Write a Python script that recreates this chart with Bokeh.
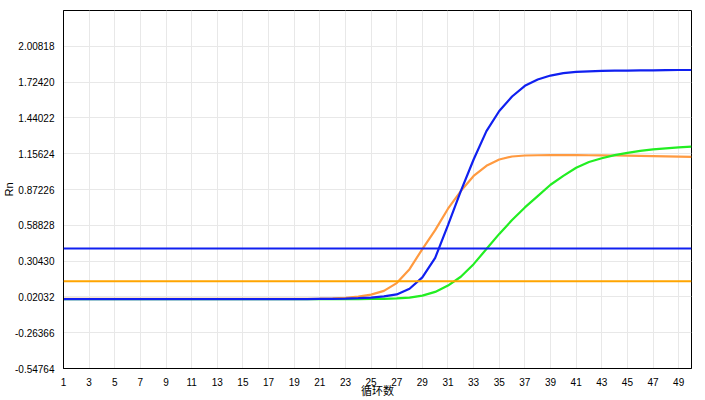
from bokeh.plotting import figure
from bokeh.models import FixedTicker, Range1d, Span
from bokeh.embed import file_html
from bokeh.resources import INLINE

cycles = list(range(1, 51))

blue = [0.002, 0.002, 0.002, 0.002, 0.002, 0.002, 0.002, 0.002, 0.002, 0.002,
        0.002, 0.002, 0.002, 0.002, 0.002, 0.002, 0.002, 0.002, 0.002, 0.003,
        0.004, 0.005, 0.007, 0.010, 0.015, 0.024, 0.040, 0.085, 0.175, 0.33,
        0.59, 0.86, 1.11, 1.335, 1.495, 1.61, 1.695, 1.745, 1.776, 1.795,
        1.805, 1.810, 1.813, 1.815, 1.816, 1.817, 1.818, 1.819, 1.82, 1.82]

orange = [0.004, 0.004, 0.004, 0.004, 0.004, 0.004, 0.004, 0.004, 0.004, 0.004,
          0.004, 0.004, 0.004, 0.004, 0.004, 0.004, 0.004, 0.004, 0.004, 0.005,
          0.006, 0.008, 0.013, 0.022, 0.038, 0.068, 0.13, 0.24, 0.40, 0.55,
          0.72, 0.86, 0.98, 1.06, 1.11, 1.134, 1.142, 1.144, 1.145, 1.145,
          1.145, 1.144, 1.143, 1.142, 1.141, 1.139, 1.137, 1.135, 1.133, 1.131]

green = [0.003, 0.003, 0.003, 0.003, 0.003, 0.003, 0.003, 0.003, 0.003, 0.003,
         0.003, 0.003, 0.003, 0.003, 0.003, 0.003, 0.003, 0.003, 0.003, 0.003,
         0.003, 0.003, 0.003, 0.003, 0.004, 0.005, 0.008, 0.015, 0.03, 0.06,
         0.11, 0.18, 0.28, 0.40, 0.52, 0.63, 0.73, 0.82, 0.91, 0.98,
         1.045, 1.09, 1.12, 1.145, 1.163, 1.178, 1.19, 1.199, 1.206, 1.212]

threshold_blue = 0.404
threshold_orange = 0.145

y_ticks = [-0.54764, -0.26366, 0.02032, 0.30430, 0.58828, 0.87226,
           1.15624, 1.44022, 1.72420, 2.00818]
y_labels = ["-0.54764", "-0.26366", "0.02032", "0.30430", "0.58828", "0.87226",
            "1.15624", "1.44022", "1.72420", "2.00818"]
y_top = 2.29216
x_ticks = list(range(1, 50, 2))

FONT = "Liberation Sans"

p = figure(width=705, height=400, output_backend="svg", toolbar_location=None,
           x_range=Range1d(1, 50), y_range=Range1d(y_ticks[0], y_top),
           min_border_left=63, min_border_right=14, min_border_top=10,
           min_border_bottom=29)
p.background_fill_color = "white"
p.border_fill_color = "white"
p.outline_line_color = "black"
p.outline_line_width = 1

p.xaxis.ticker = FixedTicker(ticks=x_ticks)
p.yaxis.ticker = FixedTicker(ticks=y_ticks + [y_top])
p.yaxis.major_label_overrides = {v: s for v, s in zip(y_ticks, y_labels)}
p.yaxis.major_label_overrides[y_top] = ""
for ax in (p.xaxis[0], p.yaxis[0]):
    ax.axis_line_color = "black"
    ax.axis_line_width = 1
    ax.major_tick_line_color = None
    ax.minor_tick_line_color = None
    ax.major_label_text_font = FONT
    ax.major_label_text_font_size = "10px"
    ax.major_label_text_color = "black"
    ax.axis_label_text_font_style = "normal"
    ax.axis_label_text_color = "black"
p.yaxis.major_label_standoff = 3
p.xaxis.major_label_standoff = 3

p.yaxis.axis_label = "Rn"
p.yaxis.axis_label_text_font = FONT
p.yaxis.axis_label_text_font_size = "11px"
p.yaxis.axis_label_standoff = -3

p.xaxis.axis_label = "循环数"
p.xaxis.axis_label_text_font = "Noto Sans CJK SC"
p.xaxis.axis_label_text_font_size = "11px"
p.xaxis.axis_label_standoff = -7

p.grid.grid_line_color = "#e8e8e8"
p.grid.grid_line_width = 1

p.line(cycles, orange, line_color="#ff9a40", line_width=2.2)
p.line(cycles, green, line_color="#22ee22", line_width=2.2)
p.line(cycles, blue, line_color="#1020f0", line_width=2.2)

p.add_layout(Span(location=threshold_blue, dimension="width",
                  line_color="#1020f0", line_width=2))
p.add_layout(Span(location=threshold_orange, dimension="width",
                  line_color="#ffa500", line_width=2))

open("out.html", "w").write(file_html(p, INLINE))
